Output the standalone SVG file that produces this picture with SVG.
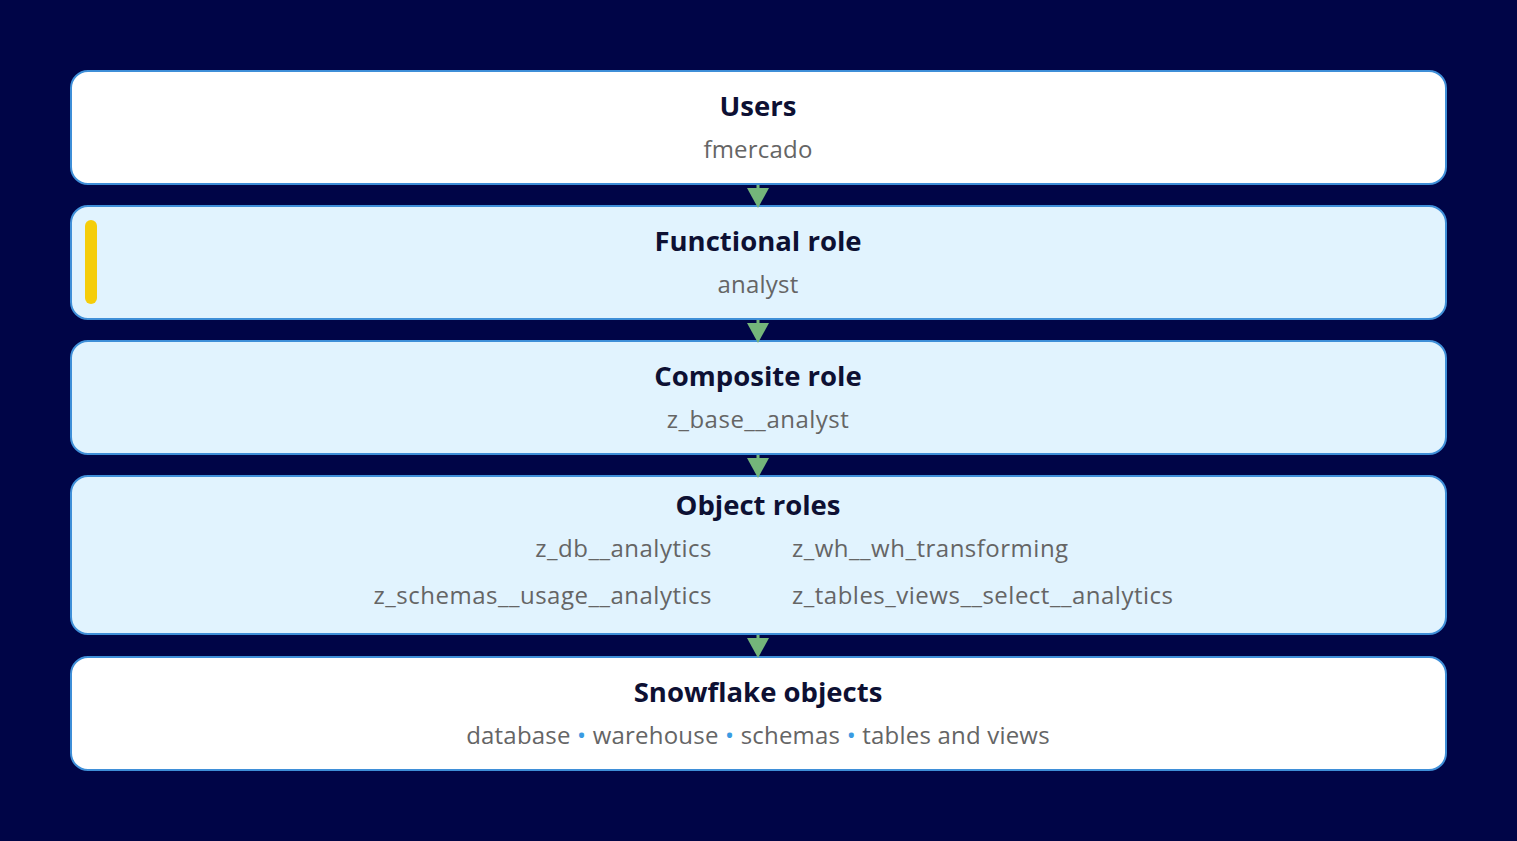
<svg xmlns="http://www.w3.org/2000/svg" width="1517" height="841" viewBox="0 0 1517 841">
<defs>
<style>
.box{stroke:#3f8fd8;stroke-width:2}
.w{fill:#ffffff}
.b{fill:#e1f3fe}
.t{font-family:"Open Sans","Liberation Sans",sans-serif;font-weight:700;font-size:27.5px;fill:#0d1033;text-anchor:middle}
.s{font-family:"Open Sans","Liberation Sans",sans-serif;font-size:24px;letter-spacing:0.2px;fill:#656565;text-anchor:middle}
.u{letter-spacing:0.5px}
.l{text-anchor:end}
.r{text-anchor:start}
.dot{fill:#3a9be2}
.conn line{stroke:#74b57a;stroke-width:3}
.conn path{fill:#74b57a}
</style>
</defs>
<rect width="1517" height="841" fill="#000547"/>
<g id="users">
<rect class="box w" x="71" y="71" width="1375" height="113" rx="17"/>
<text class="t" x="758" y="116">Users</text>
<text class="s" x="758" y="158">fmercado</text>
</g>
<g id="functional-role">
<rect class="box b" x="71" y="206" width="1375" height="113" rx="17"/>
<rect x="85" y="220" width="12" height="84" rx="6" fill="#f5cd0a"/>
<text class="t" x="758" y="251">Functional role</text>
<text class="s" x="758" y="293">analyst</text>
</g>
<g id="composite-role">
<rect class="box b" x="71" y="341" width="1375" height="113" rx="17"/>
<text class="t" x="758" y="386">Composite role</text>
<text class="s u" x="758" y="428">z_base__analyst</text>
</g>
<g id="object-roles">
<rect class="box b" x="71" y="476" width="1375" height="158" rx="17"/>
<text class="t" x="758" y="515">Object roles</text>
<text class="s u l" x="712" y="557">z_db__analytics</text>
<text class="s u r" x="792" y="557">z_wh__wh_transforming</text>
<text class="s u l" x="712" y="604">z_schemas__usage__analytics</text>
<text class="s u r" x="792" y="604">z_tables_views__select__analytics</text>
</g>
<g id="snowflake-objects">
<rect class="box w" x="71" y="657" width="1375" height="113" rx="17"/>
<text class="t" x="758" y="702">Snowflake objects</text>
<text class="s" x="758" y="744">database <tspan class="dot">•</tspan> warehouse <tspan class="dot">•</tspan> schemas <tspan class="dot">•</tspan> tables and views</text>
</g>
<g id="connectors" class="conn">
<line x1="758" y1="185" x2="758" y2="192"/><path d="M747 188 L769 188 L758 208 Z"/>
<line x1="758" y1="320" x2="758" y2="327"/><path d="M747 323 L769 323 L758 343 Z"/>
<line x1="758" y1="455" x2="758" y2="462"/><path d="M747 458 L769 458 L758 478 Z"/>
<line x1="758" y1="635" x2="758" y2="642"/><path d="M747 638 L769 638 L758 658 Z"/>
</g>
</svg>
